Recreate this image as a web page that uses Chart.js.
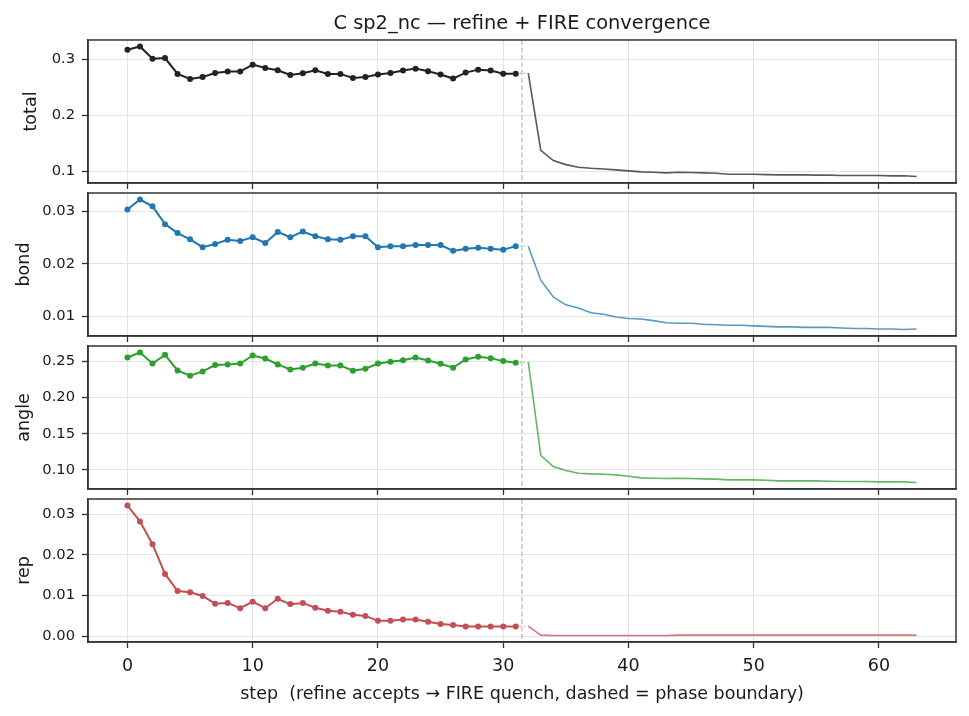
<!DOCTYPE html>
<html><head><meta charset="utf-8">
<script src="https://cdn.jsdelivr.net/npm/chart.js@4.4.1/dist/chart.umd.min.js"></script>
<style>
html,body{margin:0;padding:0;background:#fff;}
#wrap{position:relative;width:969px;height:716px;overflow:hidden;background:#fff;}
canvas{position:absolute;left:0;}
</style></head><body>
<div id="wrap">
<canvas id="c1"></canvas><canvas id="c2"></canvas><canvas id="c3"></canvas><canvas id="c4"></canvas>
</div>
<script>
const refineSteps = [0,1,2,3,4,5,6,7,8,9,10,11,12,13,14,15,16,17,18,19,20,21,22,23,24,25,26,27,28,29,30,31];
const fireSteps = [32,33,34,35,36,37,38,39,40,41,42,43,44,45,46,47,48,49,50,51,52,53,54,55,56,57,58,59,60,61,62,63];

const totalRefine = [0.3165,0.3224,0.3006,0.3018,0.2735,0.2646,0.2681,0.2752,0.2776,0.2776,0.2900,0.2840,0.2800,0.2717,0.2746,0.2800,0.2735,0.2735,0.2664,0.2681,0.2723,0.2752,0.2794,0.2829,0.2782,0.2723,0.2652,0.2758,0.2811,0.2794,0.2740,0.2740];
const totalFire = [0.2750,0.1372,0.1189,0.1118,0.1071,0.1053,0.1041,0.1024,0.1006,0.0988,0.0982,0.0971,0.0982,0.0976,0.0971,0.0965,0.0947,0.0947,0.0947,0.0940,0.0935,0.0935,0.0935,0.0930,0.0930,0.0924,0.0924,0.0924,0.0924,0.0918,0.0918,0.0906];
const bondRefine = [0.0304,0.0323,0.0310,0.0276,0.0259,0.0247,0.0232,0.0238,0.0246,0.0244,0.0251,0.0240,0.0261,0.0251,0.0262,0.0253,0.0247,0.0246,0.0253,0.0253,0.0232,0.0234,0.0234,0.0236,0.0236,0.0236,0.0225,0.0229,0.0231,0.0229,0.0227,0.0234];
const bondFire = [0.0234,0.0169,0.0137,0.0122,0.0116,0.0107,0.0104,0.0099,0.0096,0.0095,0.0092,0.0088,0.0087,0.0087,0.0085,0.0084,0.0083,0.0083,0.0082,0.0081,0.0080,0.0080,0.0079,0.0079,0.0079,0.0078,0.0077,0.0077,0.0076,0.0076,0.0075,0.0076];
const angleRefine = [0.2555,0.2624,0.2472,0.2592,0.2376,0.2303,0.2362,0.2450,0.2459,0.2472,0.2583,0.2541,0.2459,0.2390,0.2413,0.2472,0.2445,0.2445,0.2372,0.2399,0.2472,0.2495,0.2518,0.2555,0.2514,0.2468,0.2413,0.2528,0.2564,0.2546,0.2505,0.2482];
const angleFire = [0.2495,0.1202,0.1046,0.0991,0.0954,0.0945,0.0940,0.0931,0.0913,0.0890,0.0885,0.0881,0.0885,0.0881,0.0876,0.0872,0.0862,0.0862,0.0862,0.0858,0.0849,0.0849,0.0849,0.0849,0.0844,0.0839,0.0839,0.0839,0.0835,0.0835,0.0835,0.0826];
const repRefine = [0.0321,0.0282,0.0226,0.0153,0.0111,0.0108,0.0099,0.0080,0.0082,0.0069,0.0085,0.0069,0.0092,0.0079,0.0082,0.0070,0.0063,0.0060,0.0053,0.0050,0.0038,0.0038,0.0041,0.0041,0.0036,0.0030,0.0028,0.0024,0.0024,0.0024,0.0024,0.0024];
const repFire = [0.0025,0.0003,0.0002,0.0002,0.0002,0.0002,0.0002,0.0002,0.0002,0.0002,0.0002,0.0002,0.0003,0.0003,0.0003,0.0003,0.0003,0.0003,0.0003,0.0003,0.0003,0.0003,0.0003,0.0003,0.0003,0.0003,0.0003,0.0003,0.0003,0.0003,0.0003,0.0003];

const xTickValues = [0,10,20,30,40,50,60];
const xTickLabels = ['0','10','20','30','40','50','60'];
const totalTicks = [0.1,0.2,0.3];
const totalTickLabels = ['0.1','0.2','0.3'];
const bondTicks = [0.01,0.02,0.03];
const bondTickLabels = ['0.01','0.02','0.03'];
const angleTicks = [0.10,0.15,0.20,0.25];
const angleTickLabels = ['0.10','0.15','0.20','0.25'];
const repTicks = [0.00,0.01,0.02,0.03];
const repTickLabels = ['0.00','0.01','0.02','0.03'];
const boundaryStep = 31.5;

const titleText = 'C sp2_nc \u2014 refine + FIRE convergence';
const xLabelText = 'step  (refine accepts \u2192 FIRE quench, dashed = phase boundary)';

const FONT = "'DejaVu Sans', 'Liberation Sans', sans-serif";
const TXT = '#1a1a1a';
const SPINE = '#333333';
const GRID = '#e3e3e3';

function rgba(hex, a){
  const n = parseInt(hex.slice(1),16);
  return `rgba(${(n>>16)&255},${(n>>8)&255},${n&255},${a})`;
}

const framePlugin = {
  id:'frame',
  beforeDatasetsDraw(chart){
    const {ctx, chartArea:ca, scales} = chart;
    const px = scales.x.getPixelForValue(boundaryStep);
    ctx.save();
    ctx.strokeStyle = '#bdbdbd';
    ctx.lineWidth = 1.3;
    ctx.setLineDash([5,2.5]);
    ctx.beginPath();
    ctx.moveTo(px, ca.top);
    ctx.lineTo(px, ca.bottom);
    ctx.stroke();
    ctx.restore();
  },
  afterDraw(chart){
    const {ctx, chartArea:ca} = chart;
    ctx.save();
    ctx.strokeStyle = SPINE;
    ctx.lineWidth = 1.5;
    ctx.strokeRect(ca.left, ca.top, ca.right-ca.left, ca.bottom-ca.top);
    ctx.restore();
  }
};

function pts(xs, ys){ return xs.map((x,i)=>({x, y: ys[i]})); }

function makePanel(cfg){
  const cv = document.getElementById(cfg.id);
  cv.width = 969; cv.height = cfg.height;
  cv.style.top = cfg.top + 'px';
  cv.style.width = '969px'; cv.style.height = cfg.height + 'px';
  const all = cfg.refine.concat(cfg.fire);
  const lo = Math.min(...all), hi = Math.max(...all);
  const m = (hi - lo) * 0.05;
  const xAll = refineSteps.concat(fireSteps);
  const xlo = Math.min(...xAll), xhi = Math.max(...xAll);
  const xm = (xhi - xlo) * 0.05;
  const col = cfg.color;
  new Chart(cv, {
    type:'line',
    data:{ datasets:[
      { data: pts(refineSteps, cfg.refine), borderColor: col, backgroundColor: col,
        pointBackgroundColor: col, borderWidth: 2, pointRadius: 3, pointBorderWidth: 0, tension: 0, order: 1 },
      { data: [{x: refineSteps[refineSteps.length-1], y: cfg.refine[cfg.refine.length-1]}, {x: fireSteps[0], y: cfg.fire[0]}],
        borderColor: rgba(col, 0.5), borderWidth: 1, borderDash: [1.5, 2.5], pointRadius: 0, order: 3 },
      { data: pts(fireSteps, cfg.fire), borderColor: rgba(col, 0.75), borderWidth: 1.6, pointRadius: 0, tension: 0, order: 2 }
    ]},
    options:{
      responsive:false, animation:false, devicePixelRatio:1,
      layout:{ padding:{ left:0, right:13, top: cfg.padTop, bottom: 0 } },
      plugins:{
        legend:{display:false}, tooltip:{enabled:false},
        title: cfg.showTitle ? { display:true, fullSize:false, text: titleText, color: TXT,
          font:{family: FONT, size: 19.4, weight:'normal', lineHeight: 1.2}, padding:{top: 12.5, bottom: 4.2} } : {display:false}
      },
      scales:{
        x:{ type:'linear', min: xlo - xm, max: xhi + xm,
          afterBuildTicks: s => { s.ticks = xTickValues.map(v => ({value: v})); },
          afterFit: s => { s.height = cfg.xHeight; s.paddingLeft = 0; s.paddingRight = 0; },
          grid:{ color: GRID, lineWidth: 1, drawTicks: true, tickLength: 6, tickColor: SPINE, tickWidth: 1.3 },
          border:{ display:true, color: SPINE, width: 1.5 },
          ticks:{ display: cfg.showX, color: TXT, font:{family: FONT, size: 17.5}, padding: 8, maxRotation: 0,
            callback: (v, i) => xTickLabels[i] },
          title:{ display: cfg.showX, text: xLabelText, color: TXT, font:{family: FONT, size: 17.5, lineHeight: 1.2},
            padding:{ top: 0, bottom: 11.5 } }
        },
        y:{ type:'linear', min: lo - m, max: hi + m,
          afterBuildTicks: s => { s.ticks = cfg.ticks.map(v => ({value: v})); },
          afterFit: s => { s.width = 88; s.paddingTop = 0; s.paddingBottom = 0; },
          grid:{ color: GRID, lineWidth: 1, drawTicks: true, tickLength: 6, tickColor: SPINE, tickWidth: 1.3 },
          border:{ display:true, color: SPINE, width: 1.5 },
          ticks:{ color: TXT, font:{family: FONT, size: 14.7}, padding: 7, callback: (v, i) => cfg.tickLabels[i] },
          title:{ display:true, text: cfg.label, color: TXT, font:{family: FONT, size: 17.5, lineHeight: 1.2},
            padding:{ top: cfg.labelPad, bottom: 0 } }
        }
      }
    },
    plugins:[framePlugin]
  });
}

makePanel({id:'c1', top:0, height:190, padTop:0, xHeight:7, showTitle:true, showX:false,
  refine: totalRefine, fire: totalFire, color:'#222222', ticks: totalTicks, tickLabels: totalTickLabels, label:'total', labelPad:20.8});
makePanel({id:'c2', top:188, height:155, padTop:5, xHeight:7, showTitle:false, showX:false,
  refine: bondRefine, fire: bondFire, color:'#1f77b4', ticks: bondTicks, tickLabels: bondTickLabels, label:'bond', labelPad:13.5});
makePanel({id:'c3', top:341, height:155, padTop:5, xHeight:7, showTitle:false, showX:false,
  refine: angleRefine, fire: angleFire, color:'#2ca02c', ticks: angleTicks, tickLabels: angleTickLabels, label:'angle', labelPad:13.5});
makePanel({id:'c4', top:494, height:222, padTop:5, xHeight:74, showTitle:false, showX:true,
  refine: repRefine, fire: repFire, color:'#c44e52', ticks: repTicks, tickLabels: repTickLabels, label:'rep', labelPad:13.5});
</script>
</body></html>
